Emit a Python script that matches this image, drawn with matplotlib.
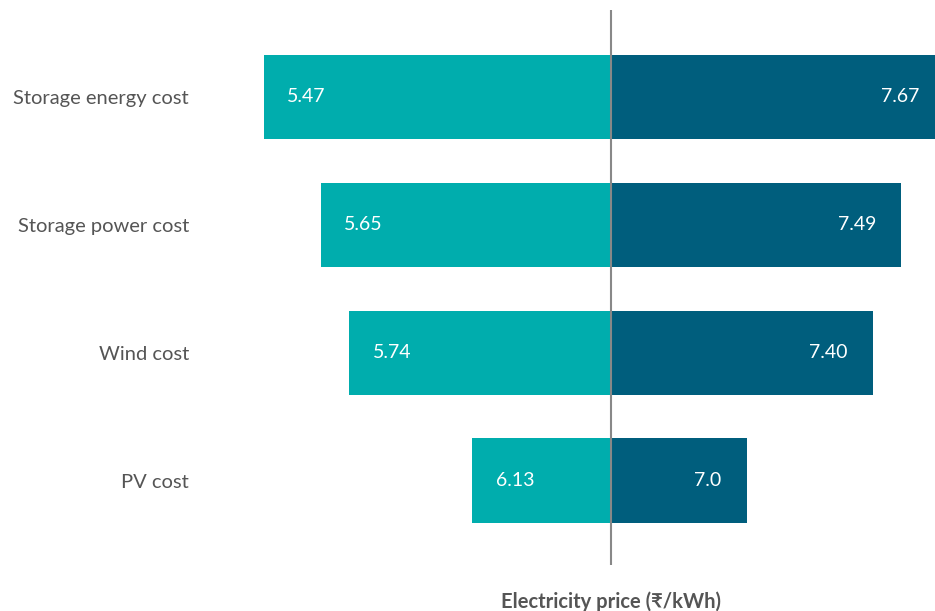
import matplotlib
matplotlib.use("Agg")
import matplotlib.pyplot as plt

# Sensitivity of electricity price to each cost driver
categories = ["Storage energy cost", "Storage power cost", "Wind cost", "PV cost"]
low_values = [5.47, 5.65, 5.74, 6.13]
high_values = [7.67, 7.49, 7.40, 7.0]
low_labels = ["5.47", "5.65", "5.74", "6.13"]
high_labels = ["7.67", "7.49", "7.40", "7.0"]
base_price = 6.57

LOW_COLOR = "#00ADAD"
HIGH_COLOR = "#005E7D"
TEXT_COLOR = "#555555"
FONTS = ["Lato", "DejaVu Sans"]

plt.rcParams["font.family"] = FONTS

fig = plt.figure(figsize=(9.35, 6.11), dpi=100)
ax = fig.add_axes([200 / 935, 46 / 611, 735 / 935, 555 / 611])

y = list(range(len(categories)))
bar_h = 0.66
ax.barh(y, [lv - base_price for lv in low_values], left=base_price,
        height=bar_h, color=LOW_COLOR)
ax.barh(y, [hv - base_price for hv in high_values], left=base_price,
        height=bar_h, color=HIGH_COLOR)

xmin, xmax = 5.268, 7.597
ax.set_xlim(xmin, xmax)
ax.set_ylim(3.66, -0.68)

ax.axvline(base_price, color="#888888", lw=1.5, zorder=3)

for yi, lv, hv, ll, hl in zip(y, low_values, high_values, low_labels, high_labels):
    ax.annotate(ll, (lv, yi), xytext=(17, 0), textcoords="offset points",
                ha="left", va="center", color="white", fontsize=14)
    ax.annotate(hl, (min(hv, xmax), yi), xytext=(-11 if hv > xmax else -18, 0),
                textcoords="offset points",
                ha="right", va="center", color="white", fontsize=14)

ax.set_yticks(y)
ax.set_yticklabels(categories, fontsize=14.5, color=TEXT_COLOR)
ax.tick_params(axis="y", length=0, pad=8)
ax.set_xticks([])
for s in ax.spines.values():
    s.set_visible(False)

fig.text(611 / 935, 9 / 611, "Electricity price (₹/kWh)", ha="center", va="center",
         fontsize=14.5, fontweight="bold", color=TEXT_COLOR)

fig.savefig("out.png", dpi=100)
